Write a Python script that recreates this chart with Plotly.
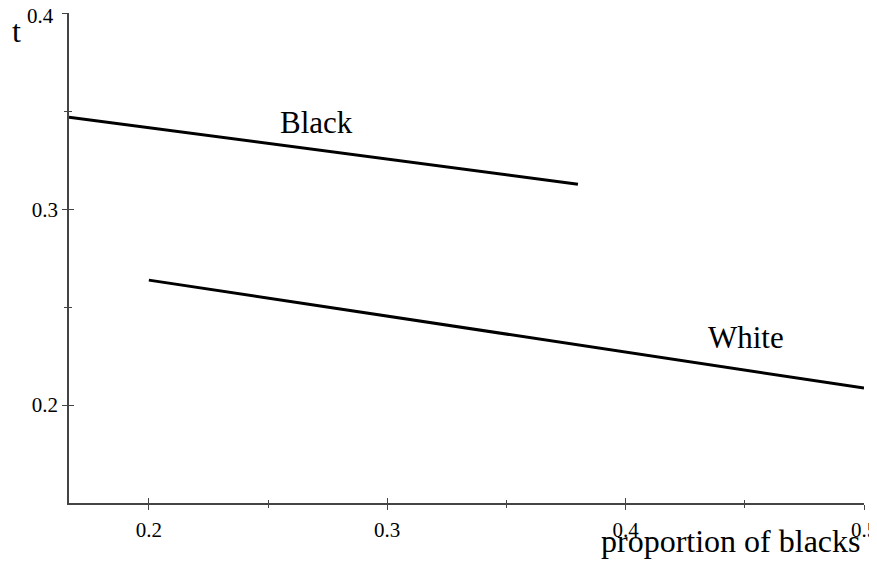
import plotly.graph_objects as go

black_x = [0.1665, 0.38]
black_y = [0.347, 0.3128]
white_x = [0.2, 0.5]
white_y = [0.2638, 0.2087]

x_ticks = [0.2, 0.3, 0.4, 0.5]
x_ticklabels = ["0.2", "0.3", "0.4", "0.5"]
y_ticks = [0.2, 0.3, 0.4]
y_ticklabels = ["0.2", "0.3", ""]   # top label "0.4" is set just below its tick, as in the reference
y_top_label = "0.4"
x_minor = [0.25, 0.35, 0.45]
y_minor = [0.25, 0.35]

x_range = [0.1665, 0.5]
y_range = [0.15, 0.4002]

font = "Liberation Serif"
axc = "#444444"

# the page body adds an 8px offset; layout is given in page-local pixels
OFF = 8
W, H = 877, 567
ML, MR, MT, MB = 69 - OFF, W - (864 - OFF), 13 - OFF, H - (503 - OFF)
PW, PH = W - ML - MR, H - MT - MB


def px(xw):
    return (xw - OFF - ML) / PW


def py(yw):
    return 1 - (yw - OFF - MT) / PH


fig = go.Figure()
fig.add_trace(go.Scatter(x=black_x, y=black_y, mode="lines",
                         line=dict(color="black", width=3), showlegend=False, hoverinfo="skip"))
fig.add_trace(go.Scatter(x=white_x, y=white_y, mode="lines",
                         line=dict(color="black", width=3), showlegend=False, hoverinfo="skip"))
fig.add_trace(go.Scatter(x=[x_range[0]], y=[y_range[0]], xaxis="x2", yaxis="y2",
                         mode="markers", marker=dict(opacity=0), showlegend=False, hoverinfo="skip"))

common = dict(showgrid=False, zeroline=False, showline=True, linecolor=axc, linewidth=1.5,
              tickcolor=axc, tickwidth=1.2, automargin=False)

fig.update_layout(
    width=W, height=H,
    margin=dict(l=ML, r=MR, t=MT, b=MB, autoexpand=False),
    plot_bgcolor="white", paper_bgcolor="white",
    font=dict(family=font, color="black"),
    xaxis=dict(range=x_range, tickvals=x_ticks, ticktext=x_ticklabels, ticks="outside",
               ticklen=5, ticklabelstandoff=2, tickfont=dict(size=21, family=font),
               minor=dict(ticks="outside", ticklen=3, tickvals=x_minor, tickcolor=axc),
               **common),
    yaxis=dict(range=y_range, tickvals=y_ticks, ticktext=y_ticklabels, ticks="outside",
               ticklen=5, ticklabelstandoff=0, tickfont=dict(size=21, family=font),
               minor=dict(ticks="outside", ticklen=3, tickvals=y_minor, tickcolor=axc),
               **common),
    xaxis2=dict(range=x_range, overlaying="x", tickvals=x_ticks, ticks="inside", ticklen=5,
                showticklabels=False, anchor="y2", side="bottom",
                minor=dict(ticks="inside", ticklen=3, tickvals=x_minor, tickcolor=axc),
                **common),
    yaxis2=dict(range=y_range, overlaying="y", tickvals=y_ticks, ticks="inside", ticklen=5,
                showticklabels=False, anchor="x2", side="left",
                minor=dict(ticks="inside", ticklen=3, tickvals=y_minor, tickcolor=axc),
                **common),
    annotations=[
        dict(text="Black", x=0.2705, y=0.3445, xref="x", yref="y", showarrow=False,
             font=dict(size=31, family=font)),
        dict(text="White", x=0.4505, y=0.2345, xref="x", yref="y", showarrow=False,
             font=dict(size=31, family=font)),
        dict(text="t", xref="paper", yref="paper", x=px(16), y=py(31),
             xanchor="center", yanchor="middle", showarrow=False,
             font=dict(size=32, family=font)),
        dict(text="proportion of blacks", xref="paper", yref="paper", x=px(863), y=py(541),
             xanchor="right", yanchor="middle", showarrow=False,
             font=dict(size=32, family=font)),
        dict(text=y_top_label, xref="paper", yref="y", x=px(56), y=y_ticks[-1], yshift=-3,
             xanchor="right", yanchor="middle", showarrow=False,
             font=dict(size=21, family=font)),
    ],
)

fig.write_html("out.html")
